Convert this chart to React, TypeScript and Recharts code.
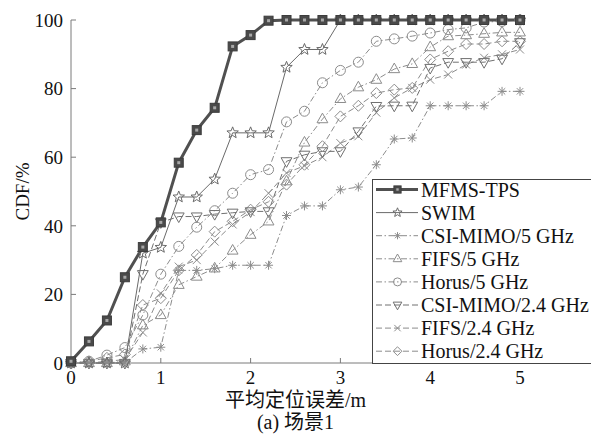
import React from 'react';
import { LineChart, Line, XAxis, YAxis, Label } from 'recharts';

// mean positioning error (m), sampled every 0.2 m
const errorM = [0, 0.2, 0.4, 0.6, 0.8, 1, 1.2, 1.4, 1.6, 1.8, 2, 2.2, 2.4, 2.6, 2.8, 3, 3.2, 3.4, 3.6, 3.8, 4, 4.2, 4.4, 4.6, 4.8, 5];

// CDF values (%)
const mfmsTps = [0.5, 6.3, 12.4, 25, 33.8, 41, 58.4, 67.9, 74.4, 92.3, 95.6, 99.8, 100, 100, 100, 100, 100, 100, 100, 100, 100, 100, 100, 100, 100, 100];
const swim = [0, 0, 0, 0, 32, 33.7, 48.4, 48.4, 53.6, 67.1, 67.1, 67.1, 86.2, 91.4, 91.4, 100, 100, 100, 100, 100, 100, 100, 100, 100, 100, 100];
const csiMimo5 = [0, 0, 0, 0, 4.1, 4.6, 27, 27, 27.5, 28.5, 28.5, 28.5, 43, 45.8, 45.8, 50.5, 51.3, 57.8, 65.3, 65.6, 75, 75, 75, 75, 79.2, 79.2];
const fifs5 = [0, 0, 0, 0.5, 11, 14, 22.8, 25.2, 27.6, 32.8, 37.4, 41.3, 53, 64.3, 71.1, 77, 80.4, 82.6, 85.7, 87.2, 92.1, 95.3, 95.6, 96, 96.4, 96.4];
const horus5 = [0, 0.5, 2.3, 4.5, 14, 25.9, 34, 39.6, 44.4, 49.5, 54.9, 56.4, 70.3, 73.4, 81.7, 85.3, 87.7, 93.8, 94.5, 95.3, 96.2, 97.2, 97.7, 99.4, 99.6, 100];
const csiMimo24 = [0, 0, 0, 0, 25.9, 41, 42.7, 42.7, 43.4, 43.8, 44.2, 44.2, 58.8, 60.7, 61.7, 61.7, 67.5, 74.9, 75, 75, 86, 87.7, 87.7, 87.7, 88.7, 93.5];
const fifs24 = [0, 0, 0.5, 1, 8.9, 20.3, 28.1, 30, 35.4, 40.4, 44, 49.5, 55.4, 57.5, 60, 64.1, 66.1, 73, 77.3, 80.2, 82.6, 84.1, 87, 89, 90, 91.4];
const horus24 = [0, 0.5, 1.5, 2.5, 16.9, 18.9, 27, 31.5, 38.3, 41.3, 44.7, 47, 52, 57.8, 63.2, 71.9, 75, 78.7, 79.7, 80.2, 88.5, 90.9, 93, 93, 93.8, 93.8];

const xTicks = [0, 1, 2, 3, 4, 5];
const yTicks = [0, 20, 40, 60, 80, 100];

type MarkerKind = 'square' | 'star' | 'asterisk' | 'triUp' | 'circle' | 'triDown' | 'cross' | 'diamond';

interface SeriesConf {
  key: string;
  name: string;
  values: number[];
  stroke: string;
  width: number;
  dash?: string;
  marker: MarkerKind;
}

const DASH_DOT = '6 2.5 1.5 2.5';
const DASHED = '6 3';

const series: SeriesConf[] = [
  { key: 'mfms', name: 'MFMS-TPS', values: mfmsTps, stroke: '#505050', width: 3, marker: 'square' },
  { key: 'swim', name: 'SWIM', values: swim, stroke: '#6a6a6a', width: 1, marker: 'star' },
  { key: 'csi5', name: 'CSI-MIMO/5 GHz', values: csiMimo5, stroke: '#8c8c8c', width: 1, dash: DASH_DOT, marker: 'asterisk' },
  { key: 'fifs5', name: 'FIFS/5 GHz', values: fifs5, stroke: '#8c8c8c', width: 1, dash: DASH_DOT, marker: 'triUp' },
  { key: 'horus5', name: 'Horus/5 GHz', values: horus5, stroke: '#8c8c8c', width: 1, dash: DASH_DOT, marker: 'circle' },
  { key: 'csi24', name: 'CSI-MIMO/2.4 GHz', values: csiMimo24, stroke: '#707070', width: 1, dash: DASHED, marker: 'triDown' },
  { key: 'fifs24', name: 'FIFS/2.4 GHz', values: fifs24, stroke: '#8c8c8c', width: 1, dash: DASHED, marker: 'cross' },
  { key: 'horus24', name: 'Horus/2.4 GHz', values: horus24, stroke: '#8c8c8c', width: 1, dash: DASHED, marker: 'diamond' },
];

const rows = errorM.map((x, i) => {
  const r: Record<string, number> = { x };
  series.forEach((s) => (r[s.key] = s.values[i]));
  return r;
});

const FONT = "'Liberation Serif', 'Noto Sans CJK SC', serif";
const AXIS = '#7a7a7a';

function starPoints(cx: number, cy: number, R: number, r: number) {
  const pts: string[] = [];
  for (let i = 0; i < 10; i++) {
    const a = -Math.PI / 2 + (i * Math.PI) / 5;
    const rad = i % 2 === 0 ? R : r;
    pts.push(`${cx + rad * Math.cos(a)},${cy + rad * Math.sin(a)}`);
  }
  return pts.join(' ');
}

const Marker = ({ kind, cx, cy, color, k = 1 }: { kind: MarkerKind; cx: number; cy: number; color: string; k?: number }) => {
  if (cx == null || cy == null) return null;
  const sw = 1;
  switch (kind) {
    case 'square':
      return (
        <g>
          <rect x={cx - 4.5 * k} y={cy - 4.5 * k} width={9 * k} height={9 * k} fill="#4a4a4a" stroke="#3c3c3c" />
          <rect x={cx - 1.5 * k} y={cy - 1.5 * k} width={3 * k} height={3 * k} fill="#a8a8a8" />
        </g>
      );
    case 'star':
      return <polygon points={starPoints(cx, cy, 6 * k, 2.6 * k)} fill="none" stroke={color} strokeWidth={sw} />;
    case 'asterisk': {
      const r = 4.5 * k;
      const d = r * 0.707;
      return (
        <g stroke={color} strokeWidth={sw}>
          <line x1={cx - r} y1={cy} x2={cx + r} y2={cy} />
          <line x1={cx} y1={cy - r} x2={cx} y2={cy + r} />
          <line x1={cx - d} y1={cy - d} x2={cx + d} y2={cy + d} />
          <line x1={cx - d} y1={cy + d} x2={cx + d} y2={cy - d} />
        </g>
      );
    }
    case 'triUp': {
      const r = 6 * k;
      return <polygon points={`${cx},${cy - r} ${cx + r * 0.9},${cy + r * 0.6} ${cx - r * 0.9},${cy + r * 0.6}`} fill="none" stroke={color} strokeWidth={sw} />;
    }
    case 'triDown': {
      const r = 6 * k;
      return <polygon points={`${cx},${cy + r} ${cx + r * 0.9},${cy - r * 0.6} ${cx - r * 0.9},${cy - r * 0.6}`} fill="none" stroke={color} strokeWidth={sw} />;
    }
    case 'circle':
      return <circle cx={cx} cy={cy} r={5 * k} fill="none" stroke={color} strokeWidth={sw} />;
    case 'cross': {
      const r = 4 * k;
      return (
        <g stroke={color} strokeWidth={sw}>
          <line x1={cx - r} y1={cy - r} x2={cx + r} y2={cy + r} />
          <line x1={cx - r} y1={cy + r} x2={cx + r} y2={cy - r} />
        </g>
      );
    }
    case 'diamond': {
      const r = 5.5 * k;
      return <polygon points={`${cx},${cy - r} ${cx + r},${cy} ${cx},${cy + r} ${cx - r},${cy}`} fill="none" stroke={color} strokeWidth={sw} />;
    }
  }
  return null;
};

const LegendBox = () => (
  <div
    style={{
      position: 'absolute',
      left: 372,
      top: 179,
      width: 230,
      height: 183,
      border: '1px solid #444',
      background: '#fff',
    }}
  >
    <svg width={230} height={183} style={{ display: 'block' }}>
      {series.map((s, i) => {
        const y = 9.5 + i * 23.1;
        return (
          <g key={s.key}>
            <line x1={3} x2={45} y1={y} y2={y} stroke={s.stroke} strokeWidth={s.width} strokeDasharray={s.dash} />
            <Marker kind={s.marker} cx={24.5} cy={y} color={s.stroke} k={0.8} />
            <text x={48} y={y} dy="0.35em" fontFamily={FONT} fontSize={20} fill="#111">
              {s.name}
            </text>
          </g>
        );
      })}
    </svg>
  </div>
);

export default function App() {
  return (
    <div style={{ position: 'absolute', left: 0, top: 0, width: 591, height: 436, overflow: 'hidden', background: '#fff' }}>
      <LineChart
        width={591}
        height={436}
        data={rows}
        margin={{ top: 20, right: 71, left: 11, bottom: 0 }}
        style={{ fontFamily: FONT }}
      >
        <XAxis
          dataKey="x"
          type="number"
          domain={[0, 5]}
          ticks={xTicks}
          height={73}
          stroke={AXIS}
          tickSize={-5}
          tickMargin={13}
          tick={{ fontSize: 19, fill: '#111', fontFamily: FONT }}
        >
          <Label value="平均定位误差/m" position="insideTop" offset={30} fontSize={20} fill="#111" fontFamily={FONT} />
          <Label value="(a) 场景1" position="insideTop" offset={52} fontSize={20} fill="#111" fontFamily={FONT} />
        </XAxis>
        <XAxis
          xAxisId="top"
          orientation="top"
          type="number"
          domain={[0, 5]}
          ticks={xTicks}
          height={0}
          stroke={AXIS}
          tickSize={-5}
          tick={false}
        />
        <YAxis
          type="number"
          domain={[0, 100]}
          ticks={yTicks}
          width={60}
          stroke={AXIS}
          tickSize={-5}
          tickMargin={13}
          tick={{ fontSize: 19, fill: '#111', fontFamily: FONT }}
        >
          <Label value="CDF/%" angle={-90} position="insideLeft" offset={11} fontSize={19} fill="#111" fontFamily={FONT} style={{ textAnchor: 'middle' }} />
        </YAxis>
        <YAxis
          yAxisId="right"
          orientation="right"
          type="number"
          domain={[0, 100]}
          ticks={yTicks}
          width={0}
          stroke={AXIS}
          tickSize={-5}
          tick={false}
        />
        {[...series].reverse().map((s) => (
          <Line
            key={s.key}
            dataKey={s.key}
            name={s.name}
            type="linear"
            stroke={s.stroke}
            strokeWidth={s.width}
            strokeDasharray={s.dash}
            isAnimationActive={false}
            dot={(p: any) => <Marker key={`${s.key}-${p.index}`} kind={s.marker} cx={p.cx} cy={p.cy} color={s.stroke} />}
            activeDot={false}
          />
        ))}
      </LineChart>
      <LegendBox />
    </div>
  );
}
